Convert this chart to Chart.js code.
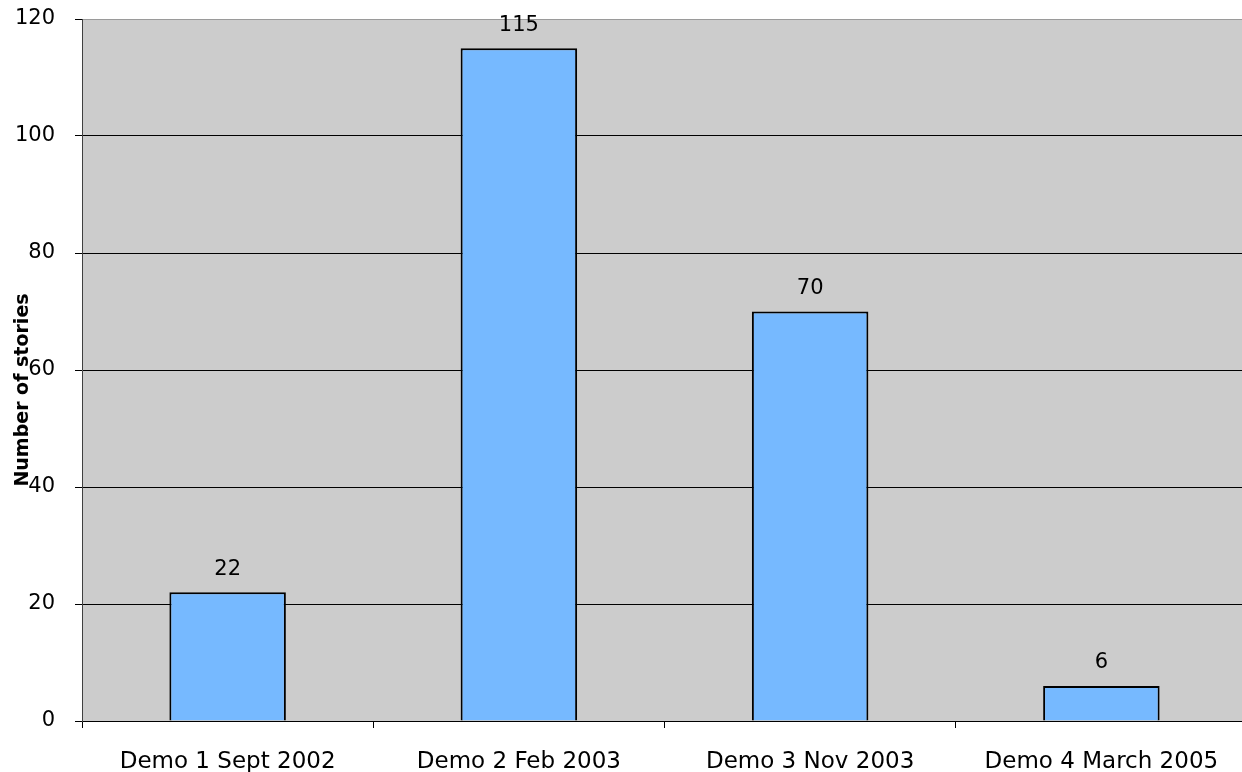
<!DOCTYPE html>
<html>
<head>
<meta charset="utf-8">
<script src="https://cdn.jsdelivr.net/npm/chart.js@4.4.1/dist/chart.umd.min.js"></script>
<style>
  html, body { margin: 0; padding: 0; background: #ffffff; overflow: hidden; }
  /* the plot runs a few pixels past the right edge of the visible frame */
  #wrap { width: 1242px; height: 772px; position: relative; overflow: hidden; }
  #chart { display: block; }
</style>
</head>
<body>
<div id="wrap"><canvas id="chart" width="1247" height="772"></canvas></div>
<script>
// Stories delivered per demo
const categories = ['Demo 1 Sept 2002', 'Demo 2 Feb 2003', 'Demo 3 Nov 2003', 'Demo 4 March 2005'];
const storyCounts = [22, 115, 70, 6];
const yAxisTitle = 'Number of stories';
const yMin = 0;
const yMax = 120;
const yStep = 20;

const FONT = '"DejaVu Sans", Verdana, sans-serif';

// Grey plot area behind the bars
const plotBackground = {
  id: 'plotBackground',
  beforeDraw(chart) {
    const { ctx, chartArea: a } = chart;
    ctx.save();
    ctx.fillStyle = '#cccccc';
    ctx.fillRect(a.left, a.top, a.right - a.left, a.bottom - a.top);
    ctx.restore();
  }
};

// Value printed above each bar
const barValues = {
  id: 'barValues',
  afterDatasetsDraw(chart) {
    const { ctx } = chart;
    const meta = chart.getDatasetMeta(0);
    const values = chart.data.datasets[0].data;
    ctx.save();
    ctx.font = '21px ' + FONT;
    ctx.fillStyle = '#000000';
    ctx.textAlign = 'center';
    ctx.textBaseline = 'middle';
    meta.data.forEach((bar, i) => {
      ctx.fillText(String(values[i]), bar.x, bar.y - 23);
    });
    ctx.restore();
  }
};

// Rotated axis title, sitting over the tick labels
const yTitle = {
  id: 'yTitle',
  afterDraw(chart) {
    const { ctx, chartArea: a } = chart;
    ctx.save();
    ctx.font = 'bold 19px ' + FONT;
    ctx.fillStyle = '#000000';
    ctx.textAlign = 'center';
    ctx.textBaseline = 'middle';
    ctx.translate(23, (a.top + a.bottom) / 2 + 20);
    ctx.rotate(-Math.PI / 2);
    ctx.fillText(yAxisTitle, 0, 0);
    ctx.restore();
  }
};

new Chart(document.getElementById('chart'), {
  type: 'bar',
  data: {
    labels: categories,
    datasets: [{
      data: storyCounts,
      backgroundColor: '#76b9ff',
      borderColor: '#000000',
      borderWidth: 2,
      categoryPercentage: 1.0,
      barPercentage: 0.4
    }]
  },
  options: {
    responsive: false,
    animation: false,
    devicePixelRatio: 1,
    layout: { padding: { top: 19, right: 0, left: 0, bottom: 0 } },
    plugins: {
      legend: { display: false },
      tooltip: { enabled: false }
    },
    scales: {
      x: {
        offset: true,
        afterFit(scale) {
          scale.height = 51;
          scale.paddingLeft = 0;
          scale.paddingRight = 0;
        },
        grid: {
          offset: true,
          drawOnChartArea: false,
          drawTicks: true,
          tickLength: 7,
          tickColor: '#000000',
          lineWidth: 1
        },
        border: { display: true, color: '#000000', width: 1 },
        ticks: {
          color: '#000000',
          font: { family: FONT, size: 23 },
          padding: 20,
          maxRotation: 0,
          autoSkip: false
        }
      },
      y: {
        min: yMin,
        max: yMax,
        afterFit(scale) {
          scale.width = 82;
          scale.paddingTop = 0;
          scale.paddingBottom = 0;
        },
        grid: {
          color: (c) => (c.tick && c.tick.value === yMax ? '#9a9a9a' : '#000000'),
          tickColor: '#000000',
          tickLength: 7,
          lineWidth: 1
        },
        border: { display: true, color: '#404040', width: 1 },
        ticks: {
          stepSize: yStep,
          color: '#000000',
          font: { family: FONT, size: 21 },
          padding: 20
        }
      }
    }
  },
  plugins: [plotBackground, barValues, yTitle]
});
</script>
</body>
</html>
